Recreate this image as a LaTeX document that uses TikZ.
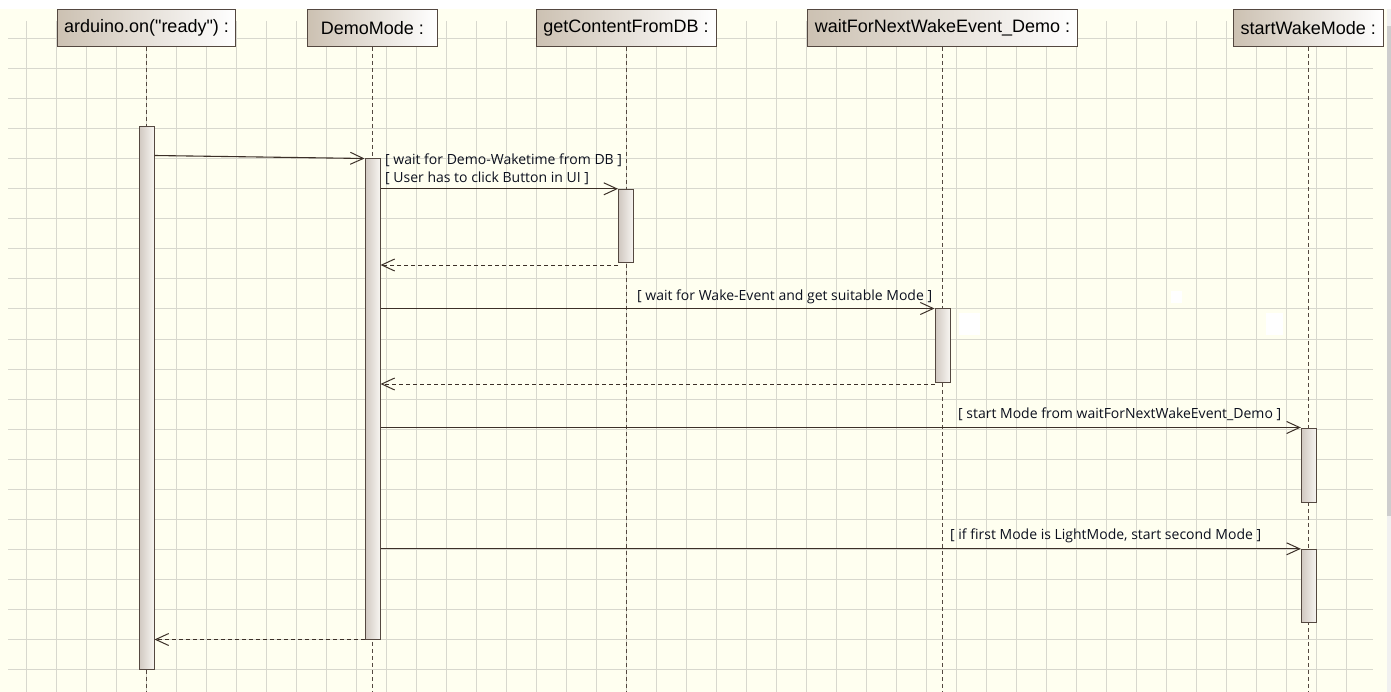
\documentclass[tikz,border=0pt]{standalone}
\usepackage{fontspec}
\newfontfamily\headfont{Liberation Sans}
\newfontfamily\lblfont{Open Sans}
\usetikzlibrary{arrows.meta,calc}
\definecolor{bg}{RGB}{255,255,240}
\definecolor{gridc}{RGB}{216,216,206}
\definecolor{edge}{RGB}{84,72,64}
\definecolor{tanc}{RGB}{204,193,178}
\definecolor{barl}{RGB}{208,200,192}
\definecolor{barr}{RGB}{247,245,241}
\definecolor{msgc}{RGB}{60,48,40}
\definecolor{txt}{RGB}{12,16,30}
\definecolor{sbar}{RGB}{240,240,240}
\definecolor{thumb}{RGB}{205,205,205}
\begin{document}
\begin{tikzpicture}[x=1pt,y=-1pt,
  head/.style={draw=edge, line width=1pt, left color=tanc, right color=white,
    minimum height=37pt, inner sep=0pt, font=\headfont\fontsize{18}{20}\selectfont},
  actbar/.style={draw=edge, line width=1pt, left color=barl, right color=barr,
    minimum width=15pt, inner sep=0pt},
  life/.style={draw=edge, line width=1pt, dash pattern=on 4pt off 3pt},
  msg/.style={draw=msgc, line width=1.1pt,
    -{Straight Barb[length=13pt,width=12pt,line width=1pt]}},
  ret/.style={msg, line width=0.9pt, dash pattern=on 4pt off 3pt},
  lbl/.style={anchor=west, inner sep=0pt, text=txt,
    font=\lblfont\fontsize{14}{16}\selectfont},
  gridline/.style={draw=gridc, line width=1pt}
]
\useasboundingbox (0,0) rectangle (1391,692);
% background
\fill[white] (0,0) rectangle (1391,692);
\fill[bg] (0,9) rectangle (1387,692);
\foreach \i in {0,...,44} \draw[gridline] ({26.7+30*\i},21) -- ({26.7+30*\i},692);
\foreach \j in {0,...,21} \draw[gridline] (8,{39+30*\j}) -- (1373,{39+30*\j});
\fill[sbar] (1387,9) rectangle (1391,692);
\fill[thumb] (1387,26) rectangle (1391,516);
\fill[white] (1171,291) rectangle (1182,303);
\fill[white] (959,313) rectangle (980,335);
\fill[white] (1266,313) rectangle (1283,335);
\coordinate (bot) at (0,692);
% headers
\node[head, minimum width=178pt] (hA) at (146.5,27.8) {arduino.on("ready") :};
\node[head, minimum width=129.4pt] (hD) at (372.5,27.8) {DemoMode :};
\node[head, minimum width=180pt] (hG) at (626,27.8) {getContentFromDB :};
\node[head, minimum width=270.6pt] (hW) at (942.5,27.8) {waitForNextWakeEvent\_Demo :};
\node[head, minimum width=150pt] (hS) at (1308.3,27.8) {startWakeMode :};
% lifelines
\foreach \h in {hA,hD,hG,hW,hS} \draw[life] (\h.south) -- (\h.south |- bot);
% activation bars
\node[actbar, minimum height=542pt] (A) at (146.5,398) {};
\node[actbar, minimum height=480pt] (D) at (372.5,399) {};
\node[actbar, minimum height=73.2pt] (G) at (626,225.9) {};
\node[actbar, minimum height=73.5pt] (W) at (942.5,345.75) {};
\node[actbar, minimum height=74.5pt] (S1) at (1308.8,465.25) {};
\node[actbar, minimum height=73.4pt] (S2) at (1308.8,586) {};
% messages
\draw[msg] ($(A.east |- D.north)+(0,-3)$) -- (D.north west);
\draw[msg] (G.north west -| D.east) -- (G.north west);
\draw[ret] ([yshift=-2pt]G.south west) -- ([yshift=-2pt]G.south west -| D.east);
\draw[msg] (W.north west -| D.east) -- (W.north west);
\draw[ret] ([yshift=-1pt]W.south west) -- ([yshift=-1pt]W.south west -| D.east);
\draw[msg] (S1.north west -| D.east) -- (S1.north west);
\draw[msg] (S2.north west -| D.east) -- (S2.north west);
\draw[ret] (D.south west) -- (D.south west -| A.east);
% labels
\node[lbl] (l1) at (385,160) {[ wait for Demo-Waketime from DB ]};
\node[lbl] (l2) at (385,178) {[ User has to click Button in UI ]};
\node[lbl] (l4) at (637,297) {[ wait for Wake-Event and get suitable Mode ]};
\node[lbl] (l6) at (958,414) {[ start Mode from waitForNextWakeEvent\_Demo ]};
\node[lbl] (l7) at (950,536) {[ if first Mode is LightMode, start second Mode ]};
\end{tikzpicture}
\end{document}
